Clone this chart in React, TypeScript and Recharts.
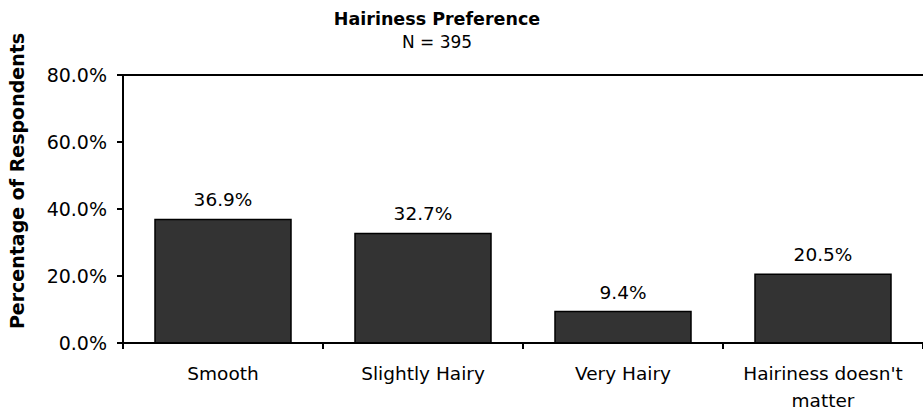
import React from "react";
import { Bar, BarChart, LabelList, ReferenceLine, XAxis, YAxis } from "recharts";

const CATEGORIES = ["Smooth", "Slightly Hairy", "Very Hairy", "Hairiness doesn't matter"];
const PERCENTS = [36.9, 32.7, 9.4, 20.5];
const Y_TICKS = [0, 20, 40, 60, 80];

const FONT = "'DejaVu Sans', Verdana, sans-serif";
const W = 923;
const H = 415;
const PLOT_LEFT = 123;
const BAND = (W - PLOT_LEFT) / CATEGORIES.length;

const data = CATEGORIES.map((name, i) => ({ name, value: PERCENTS[i] }));
const pct = (v: number) => `${Number(v).toFixed(1)}%`;

// split long category names into lines of ~18 chars
function wrap(s: string, max = 18) {
  const lines: string[] = [];
  let cur = "";
  for (const w of s.split(" ")) {
    if (cur && (cur + " " + w).length > max) {
      lines.push(cur);
      cur = w;
    } else cur = cur ? cur + " " + w : w;
  }
  if (cur) lines.push(cur);
  return lines;
}

function CategoryTick(props: any) {
  const { x, y, payload, index } = props;
  const left = x - BAND / 2;
  return (
    <g>
      <line x1={left} y1={y - 8} x2={left} y2={y - 2} stroke="#000" strokeWidth={2} />
      {index === CATEGORIES.length - 1 && (
        <line x1={x + BAND / 2} y1={y - 8} x2={x + BAND / 2} y2={y - 2} stroke="#000" strokeWidth={2} />
      )}
      <text x={x} y={y + 29} textAnchor="middle" fontSize={18.5} fontFamily={FONT} fill="#000">
        {wrap(payload.value).map((line, i) => (
          <tspan key={i} x={x} dy={i === 0 ? 0 : 27}>
            {line}
          </tspan>
        ))}
      </text>
    </g>
  );
}

export default function App() {
  return (
    <div style={{ position: "absolute", left: 0, top: 0, background: "#fff" }}>
      <BarChart
        width={W}
        height={H}
        data={data}
        margin={{ top: 75, right: 0, bottom: 0, left: 0 }}
        barCategoryGap="16%"
      >
        <text x={437} y={25} textAnchor="middle" fontFamily={FONT} fontWeight="bold" fontSize={17.5}>
          Hairiness Preference
        </text>
        <text x={437} y={48} textAnchor="middle" fontFamily={FONT} fontSize={17}>
          N = 395
        </text>
        <text
          x={24}
          y={181}
          transform="rotate(-90 24 181)"
          textAnchor="middle"
          fontFamily={FONT}
          fontWeight="bold"
          fontSize={19}
        >
          Percentage of Respondents
        </text>
        <XAxis
          dataKey="name"
          height={72}
          interval={0}
          tickLine={false}
          axisLine={{ stroke: "#000", strokeWidth: 2 }}
          tick={<CategoryTick />}
        />
        <YAxis
          width={PLOT_LEFT}
          domain={[0, 80]}
          ticks={Y_TICKS}
          tickFormatter={pct}
          tickSize={6}
          tickMargin={10}
          axisLine={{ stroke: "#000", strokeWidth: 2 }}
          tickLine={{ stroke: "#000", strokeWidth: 2 }}
          tick={{ fill: "#000", fontSize: 19, fontFamily: FONT }}
        />
        <ReferenceLine y={80} stroke="#000" strokeWidth={2} />
        <Bar dataKey="value" fill="#333333" stroke="#000" strokeWidth={1.5} isAnimationActive={false}>
          <LabelList
            dataKey="value"
            position="top"
            offset={13}
            formatter={(v: any) => pct(v)}
            fill="#000"
            fontSize={18.5}
            fontFamily={FONT}
          />
        </Bar>
      </BarChart>
    </div>
  );
}
